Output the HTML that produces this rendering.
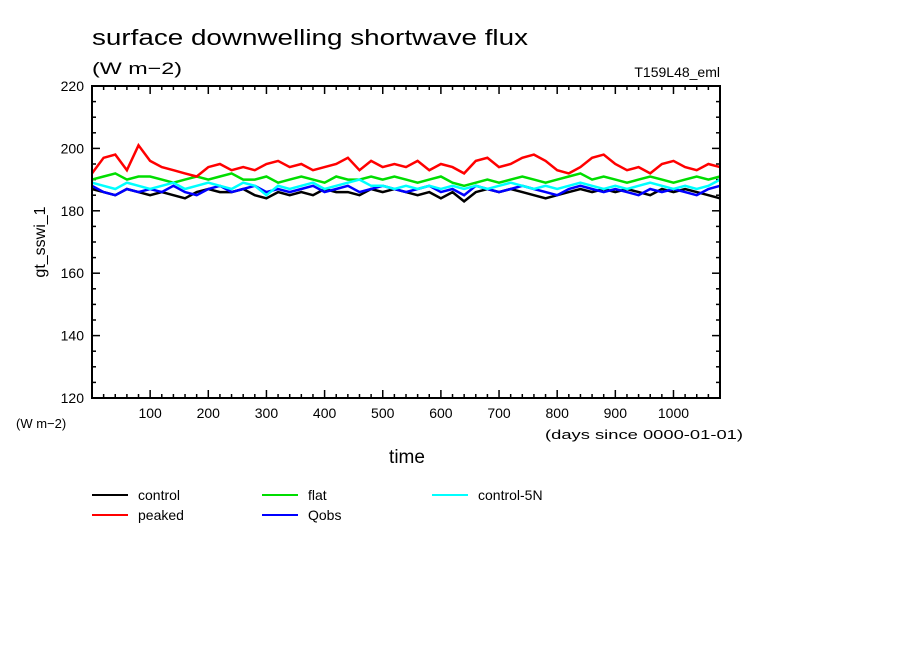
<!DOCTYPE html>
<html><head><meta charset="utf-8"><style>
body{margin:0;background:#fff;}
svg text{font-family:"Liberation Sans","DejaVu Sans",sans-serif;fill:#000;}
</style></head><body>
<svg id="chart" width="904" height="654" xmlns="http://www.w3.org/2000/svg">
<rect width="904" height="654" fill="#fff"/>
<text x="92" y="45" font-size="22" textLength="436" lengthAdjust="spacingAndGlyphs">surface downwelling shortwave flux</text>
<text x="92" y="74" font-size="17" textLength="90" lengthAdjust="spacingAndGlyphs">(W m−2)</text>
<text x="720" y="77" font-size="14" text-anchor="end">T159L48_eml</text>
<text transform="translate(45,242) rotate(-90)" font-size="16" text-anchor="middle">gt_sswi_1</text>
<text x="16" y="428" font-size="13">(W m−2)</text>
<text x="545" y="439" font-size="13" textLength="198" lengthAdjust="spacingAndGlyphs">(days since 0000-01-01)</text>
<text x="407" y="463" font-size="19" text-anchor="middle">time</text>
<g id="ticks"></g>
<g id="series"></g>
<rect x="92" y="86" width="628" height="312" fill="none" stroke="#000" stroke-width="2"/>
<g id="legend"></g>
</svg>
<script>
const days=[0,20,40,60,80,100,120,140,160,180,200,220,240,260,280,300,320,340,360,380,400,420,440,460,480,500,520,540,560,580,600,620,640,660,680,700,720,740,760,780,800,820,840,860,880,900,920,940,960,980,1000,1020,1040,1060,1080];
const control=[187,186,185,187,186,185,186,185,184,186,187,186,186,187,185,184,186,185,186,185,187,186,186,185,187,186,187,186,185,186,184,186,183,186,187,186,187,186,185,184,185,186,187,186,187,186,187,186,185,187,186,187,186,185,184];
const peaked=[192,197,198,193,201,196,194,193,192,191,194,195,193,194,193,195,196,194,195,193,194,195,197,193,196,194,195,194,196,193,195,194,192,196,197,194,195,197,198,196,193,192,194,197,198,195,193,194,192,195,196,194,193,195,194];
const flat=[190,191,192,190,191,191,190,189,190,191,190,191,192,190,190,191,189,190,191,190,189,191,190,190,191,190,191,190,189,190,191,189,188,189,190,189,190,191,190,189,190,191,192,190,191,190,189,190,191,190,189,190,191,190,191];
const qobs=[188,186,185,187,186,187,186,188,186,185,187,188,186,187,188,186,187,186,187,188,186,187,188,186,187,188,187,186,187,188,186,187,185,188,187,186,187,188,187,186,185,187,188,187,186,187,186,185,187,186,187,186,185,187,188];
const control5n=[189,188,187,189,188,187,188,189,187,188,189,188,187,189,188,185,188,187,188,189,187,188,189,190,188,188,187,188,187,188,187,188,187,188,187,188,189,188,187,188,187,188,189,188,187,188,187,188,189,188,187,188,187,188,190];
const yTicks=[120,140,160,180,200,220];
const xTicks=[100,200,300,400,500,600,700,800,900,1000];
const seriesNames=["control","peaked","flat","qobs","control-5N"];
const seriesColors=["#000","#f00","#0d0","#00f","#0ff"];
const seriesData=[control,peaked,flat,qobs,control5n];
const X0=92,X1=720,Y0=398,Y1=86,XMIN=0,XMAX=1080,YMIN=120,YMAX=220;
function xs(v){return X0+(v-XMIN)/(XMAX-XMIN)*(X1-X0);}
function ys(v){return Y0-(v-YMIN)/(YMAX-YMIN)*(Y0-Y1);}
const NS="http://www.w3.org/2000/svg";
const tg=document.getElementById('ticks');
function line(g,x1,y1,x2,y2,c,w){const l=document.createElementNS(NS,'line');l.setAttribute('x1',x1);l.setAttribute('y1',y1);l.setAttribute('x2',x2);l.setAttribute('y2',y2);l.setAttribute('stroke',c);l.setAttribute('stroke-width',w);g.appendChild(l);return l;}
for(let v=YMIN;v<=YMAX;v+=5){const major=v%20===0;const L=major?8:4;
const a=line(tg,X0,ys(v),X0+L,ys(v),'#000',1.5);


const b=line(tg,X1,ys(v),X1-L,ys(v),'#000',1.5);

}
for(let v=20;v<XMAX;v+=20){const major=v%100===0;const L=major?8:4;
const a=line(tg,xs(v),Y0,xs(v),Y0-L,'#000',1.5);


const b=line(tg,xs(v),Y1,xs(v),Y1+L,'#000',1.5);

}
yTicks.forEach(v=>{const t=document.createElementNS(NS,'text');t.setAttribute('x',84);t.setAttribute('y',ys(v)+5);t.setAttribute('text-anchor','end');t.setAttribute('font-size','14');t.textContent=v;


tg.appendChild(t);});
xTicks.forEach(v=>{const t=document.createElementNS(NS,'text');t.setAttribute('x',xs(v));t.setAttribute('y',418);t.setAttribute('text-anchor','middle');t.setAttribute('font-size','14');t.textContent=v;


tg.appendChild(t);});
const sg=document.getElementById('series');
[0,2,3,4,1].forEach(i=>{const p=document.createElementNS(NS,'polyline');
p.setAttribute('points',seriesData[i].map((v,k)=>xs(days[k]).toFixed(1)+','+ys(v).toFixed(1)).join(' '));
p.setAttribute('fill','none');p.setAttribute('stroke',seriesColors[i]);p.setAttribute('stroke-width','2.5');


sg.appendChild(p);});
const lg=document.getElementById('legend');
const pos=[[92,495],[92,515],[262,495],[262,515],[432,495]];
const labels=["control","peaked","flat","Qobs","control-5N"];
[0,1,2,3,4].forEach((i,k)=>{const [x,y]=pos[k];
const l=line(lg,x,y,x+36,y,seriesColors[i],2);


const t=document.createElementNS(NS,'text');t.setAttribute('x',x+46);t.setAttribute('y',y+5);t.setAttribute('font-size','14');t.textContent=labels[i];


lg.appendChild(t);});
</script>
</body></html>
